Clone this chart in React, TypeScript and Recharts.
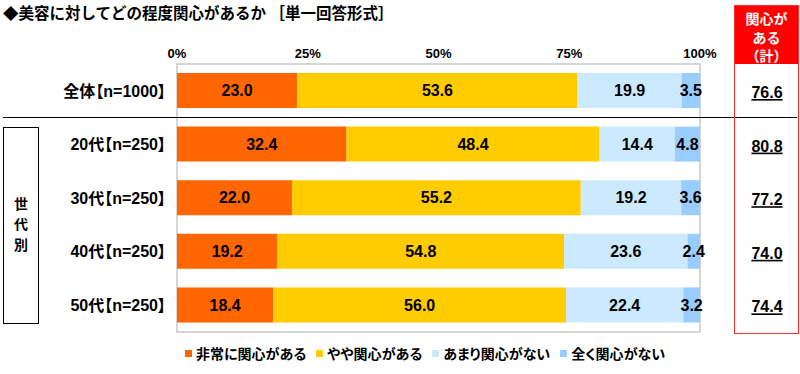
import React from 'react';
import { BarChart, Bar, XAxis, YAxis, LabelList, ReferenceArea, Legend } from 'recharts';

const categories = ['全体【n=1000】', '20代【n=250】', '30代【n=250】', '40代【n=250】', '50代【n=250】'];
const veryInterested = [23.0, 32.4, 22.0, 19.2, 18.4];
const somewhatInterested = [53.6, 48.4, 55.2, 54.8, 56.0];
const notVeryInterested = [19.9, 14.4, 19.2, 23.6, 22.4];
const notAtAllInterested = [3.5, 4.8, 3.6, 2.4, 3.2];
const interestedTotal = [76.6, 80.8, 77.2, 74.0, 74.4];
const xTicks = [0, 25, 50, 75, 100];

const seriesNames = ['非常に関心がある', 'やや関心がある', 'あまり関心がない', '全く関心がない'];
const seriesKeys = ['v1', 'v2', 'v3', 'v4'];
const seriesColors = ['#FF6600', '#FFCC00', '#CCEAFF', '#99CCFF'];

const data = categories.map((name, i) => ({
  name,
  v1: veryInterested[i],
  v2: somewhatInterested[i],
  v3: notVeryInterested[i],
  v4: notAtAllInterested[i],
  total: interestedTotal[i],
}));

const jp = '"Noto Sans CJK JP", "Noto Sans", sans-serif';
const mixed = '"Liberation Sans", "Noto Sans CJK JP", sans-serif';
const latin = '"Liberation Sans", Arial, sans-serif';
const palt = { fontFeatureSettings: '"palt"' } as React.CSSProperties;

const XTick = (props: any) => {
  const { x, y, payload } = props;
  return (
    <text x={x} y={y} textAnchor="middle" fontFamily={latin} fontWeight="bold" fontSize={13} fill="#000">
      {payload.value}%
    </text>
  );
};

const LeftTick = (props: any) => {
  const { y, payload } = props;
  return (
    <text x={166} y={y} dy="0.36em" textAnchor="end" fontFamily={mixed} fontWeight="bold" fontSize={16} fill="#000" style={palt}>
      {payload.value}
    </text>
  );
};

const RightTick = (props: any) => {
  const { y, index } = props;
  return (
    <text x={767} y={y} dy="0.45em" textAnchor="middle" fontFamily={latin} fontWeight="bold" fontSize={16} fill="#000" textDecoration="underline">
      {interestedTotal[index].toFixed(1)}
    </text>
  );
};

const LegendContent = () => (
  <div style={{ display: 'flex', alignItems: 'center', fontFamily: jp, fontWeight: 'bold', fontSize: 14, color: '#000', ...palt }}>
    {seriesNames.map((n, i) => (
      <div key={n} style={{ display: 'flex', alignItems: 'center', marginRight: 10 }}>
        <div style={{ width: 7, height: 7, background: seriesColors[i], marginRight: 4 }} />
        <span>{n}</span>
      </div>
    ))}
  </div>
);

export default function App() {
  return (
    <div style={{ position: 'absolute', left: 0, top: 0, width: 800, height: 374, background: '#fff' }}>
      <BarChart
        width={800}
        height={374}
        data={data}
        layout="vertical"
        margin={{ top: 44, right: 0, bottom: 42, left: 0 }}
      >
        <XAxis
          type="number"
          orientation="top"
          domain={[0, 100]}
          ticks={xTicks}
          axisLine={false}
          tickLine={false}
          height={20}
          tick={<XTick />}
          tickMargin={0}
          interval={0}
        />
        <YAxis yAxisId="left" type="category" dataKey="name" width={177} axisLine={false} tickLine={false} tick={<LeftTick />} interval={0} />
        <YAxis yAxisId="right" type="category" dataKey="name" orientation="right" width={100} axisLine={false} tickLine={false} tick={<RightTick />} interval={0} />
        <ReferenceArea yAxisId="left" x1={0} x2={100} fill="none" stroke="#c8c8c8" strokeWidth={1.5} ifOverflow="visible" />
        {seriesKeys.map((k, i) => (
          <Bar key={k} yAxisId="left" dataKey={k} name={seriesNames[i]} stackId="s" fill={seriesColors[i]} barSize={35} isAnimationActive={false}>
            <LabelList
              dataKey={k}
              position="center"
              formatter={(v: any) => Number(v).toFixed(1)}
              style={{ fontFamily: latin, fontWeight: 'bold', fontSize: 16, fill: '#000' }}
            />
          </Bar>
        ))}
        <Legend
          verticalAlign="middle"
          layout="horizontal"
          content={<LegendContent />}
          wrapperStyle={{ left: 185, top: 343, width: 560, height: 20 }}
        />
      </BarChart>

      <div style={{ position: 'absolute', left: 3, top: 2, fontFamily: jp, fontWeight: 'bold', fontSize: 15.5, lineHeight: '20px', color: '#000', whiteSpace: 'nowrap' }}>
        ◆美容に対してどの程度関心があるか ［単一回答形式］
      </div>

      <div style={{ position: 'absolute', left: 3, top: 117, width: 794, height: 1, background: '#000' }} />

      <div style={{ position: 'absolute', left: 3, top: 127, width: 34, height: 195, border: '1px solid #000', display: 'flex', alignItems: 'center', justifyContent: 'center' }}>
        <div style={{ fontFamily: jp, fontWeight: 'bold', fontSize: 14, lineHeight: '20.5px', textAlign: 'center', color: '#000', marginTop: -4 }}>
          世<br />代<br />別
        </div>
      </div>

      <div style={{ position: 'absolute', left: 734, top: 5, width: 63, height: 327, border: '1.5px solid #FF3030', pointerEvents: 'none' }}>
        <div style={{ background: '#FF0000', height: 58, color: '#fff', fontFamily: jp, fontWeight: 'bold', fontSize: 14, lineHeight: '18.5px', textAlign: 'center', paddingTop: 3, boxSizing: 'border-box' }}>
          関心が<br />ある<br />（計）
        </div>
      </div>
    </div>
  );
}
